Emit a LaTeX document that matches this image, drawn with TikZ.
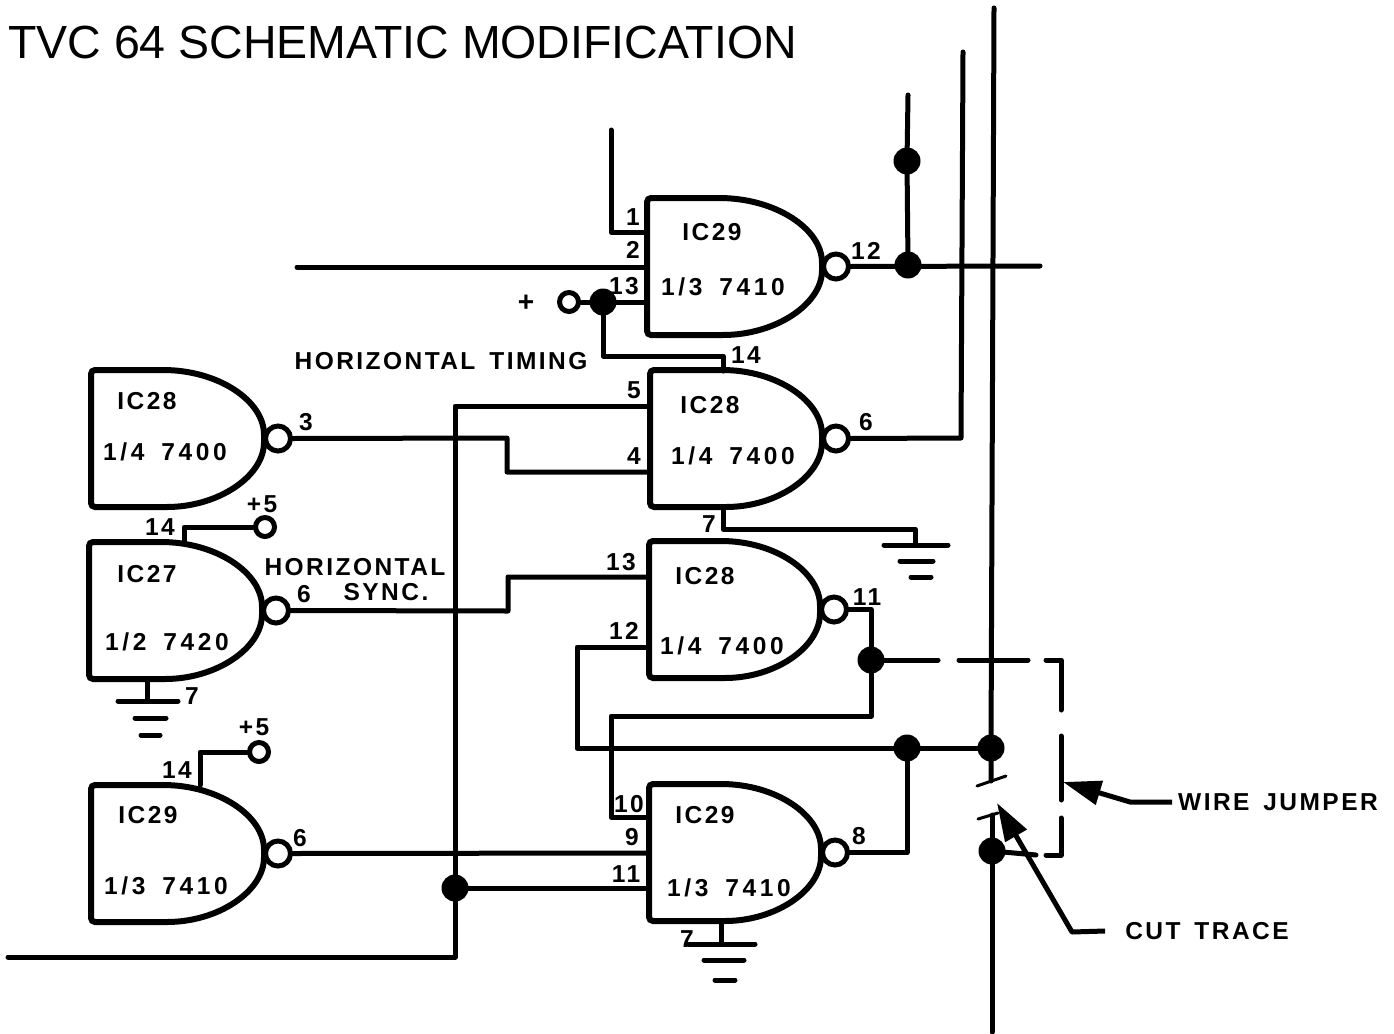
\documentclass[tikz,border=0pt]{standalone}
\usepackage{fontspec}
\setmainfont{Liberation Sans}
\newfontfamily\titlefont{Liberation Sans}
\newfontfamily\labelfont[LetterSpace=10,WordSpace=1.5]{Liberation Sans}
\newfontfamily\partfont[LetterSpace=15,WordSpace=1.6]{Liberation Sans}
\usetikzlibrary{arrows.meta}
\tikzset{
	>=Stealth
}
\newcommand{\nandgate}[4]{
	\draw [gateline, rounded corners=4pt] ({#2+72},#3) -- (#2,#3) -- (#2,{#3+137}) -- ({#2+72},{#3+137})
		.. controls ({#2+72+0.55*(#4-#2-72)},{#3+137}) and (#4,{#3+106}) .. (#4,{#3+68.5})
		.. controls (#4,{#3+31}) and ({#2+72+0.55*(#4-#2-72)},#3) .. ({#2+72},#3);
	\node (#1) [bubble] at ({#4+14},{#3+68.5}) {};
}

\begin{document}
\begin{tikzpicture}[
x = 1pt,
y = -1pt,
every node/.style = {
	font = \labelfont\bfseries\fontsize{24.5}{26}\selectfont,
	inner sep = 0pt
},
partname/.style = {
	font = \partfont\bfseries\fontsize{24.5}{26}\selectfont
},
wire/.style = {
	line width = 5pt,
	line join = round,
	line cap = round
},
gateline/.style = {
	line width = 6pt
},
bubble/.style = {
	draw,
	circle,
	fill = white,
	line width = 5pt,
	minimum size = 25pt
},
supply/.style = {
	draw,
	circle,
	fill = white,
	line width = 5pt,
	minimum size = 19pt
},
dot/.style = {
	circle,
	fill = black,
	minimum size = 27pt
},
pointer/.style = {
	line width = 5pt,
	line join = round,
	-{Triangle[length=38pt,width=24pt]}
}
]
\useasboundingbox (0,0) rectangle (1394,1033);

\node (title) [font=\titlefont\fontsize{46.5}{50}\selectfont, anchor=west] at (8,42) {TVC 64 SCHEMATIC MODIFICATION};

\nandgate{gatetop}{647}{198}{822}
\nandgate{gatetiming}{650}{370}{822}
\nandgate{gatefeed}{649}{541}{820}
\nandgate{gatelatch}{649}{784}{821}
\nandgate{gateleftone}{91}{370}{264}
\nandgate{gatelefttwo}{89}{542}{262}
\nandgate{gateleftthree}{91}{785}{264}

\node (topname) at (712,232) {IC29};
\node (toppart) [partname] at (723,287) {1/3 7410};
\node (toppina) at (633,217) {1};
\node (toppinb) at (633,250) {2};
\node (toppinc) at (624,286) {13};
\node (toppinout) at (866,251) {12};
\node (plus) [font=\labelfont\bfseries\fontsize{28}{28}\selectfont] at (526,303) {+};
\node (timinglabel) at (441,361) {HORIZONTAL TIMING};

\node (timingname) at (710,405) {IC28};
\node (timingpart) [partname] at (733,456) {1/4 7400};
\node (timingpinv) at (746,355) {14};
\node (timingpina) at (634,390) {5};
\node (timingpinb) at (634,456) {4};
\node (timingpinout) at (866,422) {6};
\node (timingpinx) at (709,524) {7};

\node (feedname) at (705,576) {IC28};
\node (feedpart) [partname] at (722,646) {1/4 7400};
\node (feedpina) at (621,562) {13};
\node (feedpinb) at (624,631) {12};
\node (feedpinout) at (867,597) {11};

\node (latchname) at (705,815) {IC29};
\node (latchpart) [partname] at (729,888) {1/3 7410};
\node (latchpina) at (629,804) {10};
\node (latchpinb) at (632,837) {9};
\node (latchpinc) at (626,874) {11};
\node (latchpinout) at (859,836) {8};
\node (latchpinx) at (687,939) {7};

\node (leftonename) at (147,401) {IC28};
\node (leftonepart) [partname] at (165,452) {1/4 7400};
\node (leftonepinout) at (306,422) {3};

\node (lefttwoname) at (147,574) {IC27};
\node (lefttwopart) [partname] at (167,642) {1/2 7420};
\node (lefttwopinv) at (160,527) {14};
\node (lefttwopinx) at (192,696) {7};
\node (lefttwopinout) at (304,594) {6};
\node (lefttwosupply) at (262,504) {+5};
\node (synclabel) [align=center, anchor=north] at (355,558) {HORIZONTAL\\[-1pt]\hspace*{62pt}SYNC.};

\node (leftthreename) at (148,815) {IC29};
\node (leftthreepart) [partname] at (166,886) {1/3 7410};
\node (leftthreepinv) at (177,770) {14};
\node (leftthreepinout) at (300,838) {6};
\node (leftthreesupply) at (254,727) {+5};

\node (jumperlabel) at (1278,802) {WIRE JUMPER};
\node (cutlabel) at (1207,931) {CUT TRACE};

\node (plusring) [supply] at (569,302) {};
\node (ringtwo) [supply] at (265,527) {};
\node (ringthree) [supply] at (259,752) {};

\node (plusdot) [dot] at (603,302) {};
\node (outdot) [dot] at (908,265) {};
\node (upperdot) [dot] at (907,161) {};
\node (feeddot) [dot] at (871,660) {};
\node (resetdot) [dot] at (907,748) {};
\node (busdot) [dot] at (991,748) {};
\node (cutdot) [dot] at (992,851) {};
\node (gatedot) [dot] at (455,888) {};

\coordinate (busTop) at (994,8);
\coordinate (busBottom) at (992,1032);
\coordinate (cutUpper) at (991,781);
\coordinate (cutLower) at (992,815);
\coordinate (tickUpperA) at (977,786);
\coordinate (tickUpperB) at (1006,776);
\coordinate (tickLowerA) at (978,819);
\coordinate (tickLowerB) at (998,813);
\coordinate (railTop) at (963,52);
\coordinate (railCorner) at (961,438);
\coordinate (upperTop) at (908,95);
\coordinate (outEnd) at (1040,266);
\coordinate (inA) at (611,130);
\coordinate (inApin) at (647,232);
\coordinate (inB) at (297,267);
\coordinate (inBpin) at (647,267);
\coordinate (inCpin) at (647,302);
\coordinate (vccPin) at (723,371);
\coordinate (timingA) at (650,406);
\coordinate (timingB) at (650,472);
\coordinate (resetEnd) at (8,957);
\coordinate (resetCorner) at (455,957);
\coordinate (groundTiming) at (723,507);
\coordinate (groundTimingBar) at (915,545);
\coordinate (feedA) at (649,577);
\coordinate (feedB) at (649,647);
\coordinate (latchA) at (649,817);
\coordinate (latchB) at (649,853);
\coordinate (latchC) at (649,888);
\coordinate (groundLatch) at (721,921);
\coordinate (groundLatchBar) at (721,944);
\coordinate (groundLeft) at (147,679);
\coordinate (groundLeftBar) at (147,701);
\coordinate (vccTwo) at (184,541);
\coordinate (vccThree) at (200,785);

\draw [wire] (busTop) -- (busdot.center) -- (cutUpper);
\draw [wire] (cutLower) -- (cutdot.center) -- (busBottom);
\draw [wire, line width=3pt] (tickUpperA) -- (tickUpperB);
\draw [wire, line width=3pt] (tickLowerA) -- (tickLowerB);

\draw [wire] (railTop) -- (railCorner) -- (gatetiming.east);
\draw [wire] (upperTop) -- (upperdot.center) -- (outdot.center);
\draw [wire] (gatetop.east) -- (outEnd);

\draw [wire] (inA) |- (inApin);
\draw [wire] (inB) -- (inBpin);
\draw [wire] (plusring.east) -- (inCpin);
\draw [wire] (plusdot.center) |- (723,356) -- (vccPin);

\draw [wire] (gateleftone.east) -- (507,438) -- (507,472) -- (timingB);
\draw [wire] (timingA) -| (resetCorner) -- (resetEnd);

\draw [wire] (groundTiming) |- (915,529) -- (groundTimingBar);
\draw [wire] (884,545) -- (948,545);
\draw [wire] (900,561) -- (933,561);
\draw [wire] (911,577) -- (931,577);

\draw [wire] (gatelefttwo.east) -- (508,611) -- (508,577) -- (feedA);
\draw [wire] (feedB) -| (577,748) -- (busdot.center);
\draw [wire] (gatefeed.east) -| (871,716) -| (611,817) -- (latchA);

\draw [wire] (feeddot.center) -- (938,660);
\draw [wire] (959,660) -- (1028,660);
\draw [wire] (1046,660) -| (1061,710);
\draw [wire] (1061,736) -- (1061,800);
\draw [wire] (1061,818) |- (1046,855);
\draw [wire] (1036,855) -- (cutdot.center);

\draw [wire] (gatelatch.east) -| (resetdot.center);
\draw [wire] (gateleftthree.east) -- (latchB);
\draw [wire] (gatedot.center) -- (latchC);

\draw [wire] (groundLatch) -- (groundLatchBar);
\draw [wire] (688,944) -- (755,944);
\draw [wire] (704,960) -- (744,960);
\draw [wire] (715,980) -- (735,980);

\draw [wire] (groundLeft) -- (groundLeftBar);
\draw [wire] (118,701) -- (178,701);
\draw [wire] (135,718) -- (166,718);
\draw [wire] (141,735) -- (160,735);

\draw [wire] (vccTwo) |- (ringtwo.west);
\draw [wire] (vccThree) |- (ringthree.west);

\draw [pointer] (jumperlabel.west) ++(-6,0) -- (1130,802) -- (1063,782);
\draw [pointer] (cutlabel.west) ++(-20,0) -- (1072,932) -- (997,803);

\end{tikzpicture}
\end{document}
